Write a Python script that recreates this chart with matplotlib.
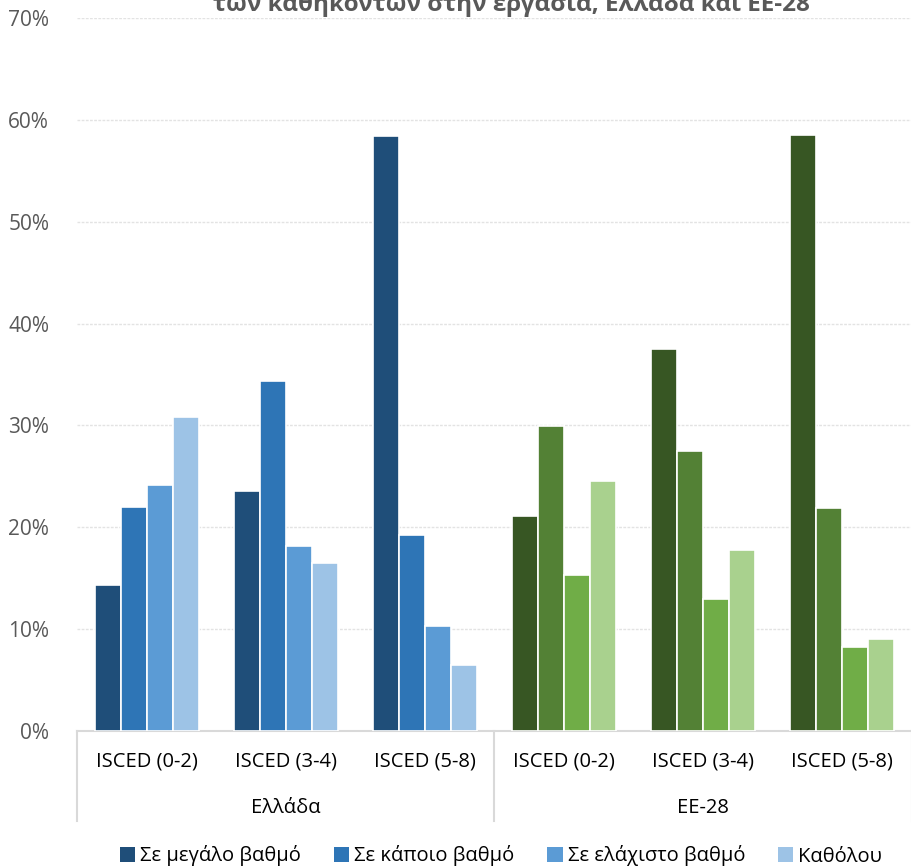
import numpy as np
import matplotlib.pyplot as plt
import matplotlib.transforms as mtransforms
from matplotlib.patches import Patch

# --- data ---
groups = ["Ελλάδα", "ΕΕ-28"]
levels = ["ISCED (0-2)", "ISCED (3-4)", "ISCED (5-8)"]
series = ["Σε μεγάλο βαθμό", "Σε κάποιο βαθμό", "Σε ελάχιστο βαθμό", "Καθόλου"]

# rows: ISCED level, cols: series
greece = np.array([
    [14.3, 22.0, 24.2, 30.8],
    [23.6, 34.4, 18.2, 16.5],
    [58.4, 19.2, 10.3, 6.5],
])
eu28 = np.array([
    [21.1, 29.9, 15.3, 24.5],
    [37.5, 27.5, 13.0, 17.8],
    [58.5, 21.9, 8.2, 9.0],
])

blues = ["#1F4E79", "#2E75B6", "#5B9BD5", "#9DC3E6"]
greens = ["#375623", "#538135", "#70AD47", "#A9D18E"]

plt.rcParams['font.family'] = ['Open Sans', 'DejaVu Sans']

W, H = 912, 868
fig = plt.figure(figsize=(W / 100, H / 100), dpi=100)
ax = fig.add_axes([77 / W, (H - 731) / H, (W - 77) / W, (731 - 18) / H])

n_cat = len(groups) * len(levels)
bw = 0.187
x = np.arange(n_cat)
data = np.vstack([greece, eu28])
for j in range(len(series)):
    offs = (j - 1.5) * bw
    cols = [blues[j]] * len(levels) + [greens[j]] * len(levels)
    ax.bar(x + offs, data[:, j], width=bw, color=cols, edgecolor="white",
           linewidth=1.2, zorder=3)

ax.set_xlim(-0.5, n_cat - 0.5)
ax.set_ylim(0, 70)
ax.set_yticks(np.arange(0, 71, 10))
ax.set_yticklabels([f"{v}%" for v in range(0, 71, 10)], color="#595959", fontsize=15)
ax.yaxis.grid(True, color="#E3E3E3", linestyle=(0, (2, 1)), linewidth=1, zorder=0)
ax.tick_params(axis="y", length=0, pad=20)
ax.set_xticks([])
for s in ["top", "right", "left"]:
    ax.spines[s].set_visible(False)
ax.spines["bottom"].set_color("#D9D9D9")
ax.spines["bottom"].set_linewidth(1.5)

# two-level category axis
trans = mtransforms.blended_transform_factory(ax.transData, ax.transAxes)
px = 1 / (731 - 18)
for i in range(n_cat):
    ax.text(i, -31 * px, levels[i % len(levels)], transform=trans, ha="center",
            va="center", fontsize=14.5, color="#000000")
for g, name in enumerate(groups):
    ax.text(g * len(levels) + 1, -77 * px, name, transform=trans, ha="center",
            va="center", fontsize=14.5, color="#000000")
for xv in [-0.5, 2.5, 5.5]:
    ax.plot([xv, xv], [0, -90 * px], transform=trans, color="#D9D9D9",
            linewidth=1.5, clip_on=False)

# title (clipped at top as in the source)
fig.text(511 / W, 1 - 11 / H, "των καθηκόντων στην εργασία, Ελλάδα και ΕΕ-28",
         ha="center", va="baseline", fontsize=17.5, fontweight="bold", color="#595959")

handles = [Patch(facecolor=c) for c in blues]
fig.legend(handles, series, loc="center", bbox_to_anchor=(501 / W, 1 - 856 / H), ncol=4,
           frameon=False, fontsize=14.5, handlelength=0.75, handleheight=0.75,
           handletextpad=0.25, columnspacing=1.65, borderpad=0.2)

fig.savefig("out.png", dpi=100)
